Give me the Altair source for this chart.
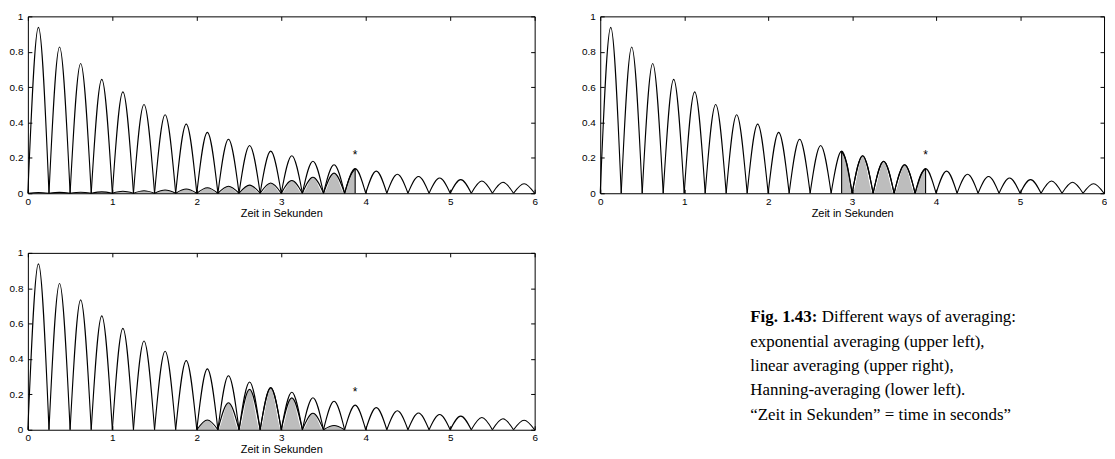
import altair as alt
import pandas as pd

# ---------------- data ----------------
zero_times = [0.0, 0.25, 0.5, 0.75, 1.0, 1.25, 1.5, 1.75, 2.0, 2.25, 2.5, 2.75,
              3.0, 3.25, 3.5, 3.75, 4.0, 4.25, 4.5, 4.75, 5.0, 5.25, 5.5, 5.75, 6.0]
peak_times = [0.125, 0.375, 0.625, 0.875, 1.125, 1.375, 1.625, 1.875, 2.125, 2.375,
              2.625, 2.875, 3.125, 3.375, 3.625, 3.875, 4.125, 4.375, 4.625, 4.875,
              5.125, 5.375, 5.625, 5.875]
signal_peaks = [0.938, 0.827, 0.734, 0.644, 0.573, 0.502, 0.444, 0.391, 0.344, 0.305,
                0.270, 0.238, 0.212, 0.181, 0.161, 0.139, 0.125, 0.107, 0.095, 0.086,
                0.077, 0.069, 0.062, 0.054]

# exponential averaging (upper left): weighted humps 0..14 and a half hump to the marker
exp_peaks = [0.004, 0.005, 0.006, 0.008, 0.011, 0.014, 0.018, 0.024, 0.031, 0.040,
             0.046, 0.058, 0.072, 0.090, 0.114]
exp_half_t = [3.75, 3.8125, 3.875]
exp_half_y = [0.0, 0.093, 0.139]

# linear averaging (upper right): full humps 12..14 plus two half humps
lin_full_idx = [12, 13, 14]
lin_start_t = [2.875, 2.9375, 3.0]
lin_start_y = [0.238, 0.168, 0.0]
lin_end_t = [3.75, 3.8125, 3.875]
lin_end_y = [0.0, 0.099, 0.139]

# Hanning averaging (lower left)
hann_idx = [8, 9, 10, 11, 12, 13, 14]
hann_peaks = [0.055, 0.153, 0.228, 0.237, 0.180, 0.093, 0.024]

marker_time = 3.875
marker_level = 0.215

x_ticks = [0, 1, 2, 3, 4, 5, 6]
y_ticks = [0, 0.2, 0.4, 0.6, 0.8, 1]
x_title = "Zeit in Sekunden"

caption_bold = "Fig. 1.43:"
caption_first = "Different ways of averaging:"
caption_rest = ["exponential averaging (upper left),",
                "linear averaging (upper right),",
                "Hanning-averaging (lower left).",
                "\u201cZeit in Sekunden\u201d = time in seconds\u201d"]


# ---------------- tables ----------------
def humps(indices, heights, tag):
    rows = []
    for k, h in zip(indices, heights):
        hid = f"{tag}{k}"
        rows += [dict(hump=hid, t=zero_times[k], y=0.0),
                 dict(hump=hid, t=peak_times[k], y=h),
                 dict(hump=hid, t=zero_times[k + 1], y=0.0)]
    return rows


def piece(ts, ys, tag):
    return [dict(hump=tag, t=t, y=y) for t, y in zip(ts, ys)]


signal_df = pd.DataFrame(humps(range(len(signal_peaks)), signal_peaks, "s"))
exp_df = pd.DataFrame(humps(range(len(exp_peaks)), exp_peaks, "e") + piece(exp_half_t, exp_half_y, "eh"))
lin_df = pd.DataFrame(humps(lin_full_idx, [signal_peaks[i] for i in lin_full_idx], "l")
                      + piece(lin_start_t, lin_start_y, "ls") + piece(lin_end_t, lin_end_y, "le"))
hann_df = pd.DataFrame(humps(hann_idx, hann_peaks, "h"))

exp_rules = pd.DataFrame(dict(t=[exp_half_t[-1]], y0=[0.0], y=[exp_half_y[-1]]))
lin_rules = pd.DataFrame(dict(t=[lin_start_t[0], lin_end_t[-1]], y0=[0.0, 0.0],
                              y=[lin_start_y[0], lin_end_y[-1]]))
star_df = pd.DataFrame(dict(t=[marker_time], y=[marker_level], s=["*"]))

# ---------------- styling ----------------
FONT = "Liberation Sans"
XS = alt.Scale(domain=[0, 6], nice=False, zero=False)
YS = alt.Scale(domain=[0, 1], nice=False)
TICK = {"expr": "-4"}
common = dict(grid=False, domainColor="black", tickColor="black", domainWidth=1,
              tickWidth=1, tickSize=TICK, labelFont=FONT, labelFontSize=10,
              labelColor="black", labelFlush=False, labelOverlap=False, zindex=1)

ax_bottom = alt.Axis(orient="bottom", values=x_ticks, format="~g", labelPadding=7,
                     title=x_title, titleFont=FONT, titleFontSize=11,
                     titleFontWeight="normal", titleColor="black", titlePadding=1, **common)
ax_left = alt.Axis(orient="left", values=y_ticks, format="~g", labelPadding=9, title=None, **common)
ax_top = alt.Axis(orient="top", values=x_ticks, labels=False, title=None, **common)
ax_right = alt.Axis(orient="right", values=y_ticks, labels=False, title=None, **common)


def panel(wdf, rules, width):
    enc_plain = dict(x=alt.X("t:Q", scale=XS, axis=None), y=alt.Y("y:Q", scale=YS, axis=None))
    area = alt.Chart(wdf).mark_area(interpolate="monotone", color="#bdbdbd").encode(
        detail="hump:N", **enc_plain)
    wline = alt.Chart(wdf).mark_line(interpolate="monotone", color="black", strokeWidth=1.1).encode(
        detail="hump:N", **enc_plain)
    outer = alt.Chart(signal_df).mark_line(interpolate="monotone", color="black", strokeWidth=1.1).encode(
        x=alt.X("t:Q", scale=XS, axis=ax_bottom),
        y=alt.Y("y:Q", scale=YS, axis=ax_left),
        detail="hump:N")
    star = alt.Chart(star_df).mark_text(font=FONT, fontSize=12, baseline="middle", color="black").encode(
        x=alt.X("t:Q", scale=XS, axis=ax_top),
        y=alt.Y("y:Q", scale=YS, axis=ax_right),
        text="s:N")
    layers = [area, wline]
    if rules is not None:
        rule = alt.Chart(rules).mark_rule(color="black", strokeWidth=1.1).encode(
            x=alt.X("t:Q", scale=XS, axis=None),
            y=alt.Y("y0:Q", scale=YS, axis=None), y2="y:Q")
        layers.append(rule)
    layers += [outer, star]
    return alt.layer(*layers).resolve_axis(x="independent", y="independent").properties(
        width=width, height=178)


p1 = panel(exp_df, exp_rules, 510)
p2 = panel(lin_df, lin_rules, 507)
p3 = panel(hann_df, None, 510)

CY = alt.Scale(domain=[-65 / 24.5, (178 - 65) / 24.5], range=[0, 178])
CAP = dict(font="Liberation Serif", fontSize=17, align="left", baseline="middle", color="black")
cap_first_df = pd.DataFrame(dict(i=[0], s=[caption_first]))
cap_rest_df = pd.DataFrame(dict(i=list(range(1, len(caption_rest) + 1)), s=caption_rest))
cap_bold_df = pd.DataFrame(dict(i=[0], s=[caption_bold]))

cap_bold = alt.Chart(cap_bold_df).mark_text(fontWeight="bold", **CAP).encode(
    x=alt.value(151), y=alt.Y("i:Q", scale=CY, axis=None), text="s:N")
cap_first = alt.Chart(cap_first_df).mark_text(**CAP).encode(
    x=alt.value(223), y=alt.Y("i:Q", scale=CY, axis=None), text="s:N")
cap_rest = alt.Chart(cap_rest_df).mark_text(**CAP).encode(
    x=alt.value(151), y=alt.Y("i:Q", scale=CY, axis=None), text="s:N")
cap = alt.layer(cap_bold, cap_first, cap_rest).properties(
    width=507, height=178, view=alt.ViewBackground(strokeOpacity=0))

chart = alt.concat(p1, p2, p3, cap, columns=2, spacing={"row": 60, "column": 66},
                   bounds="flush").properties(
    padding={"left": 1, "top": 2, "right": 0, "bottom": 0},
    background="white",
).configure_view(strokeOpacity=0)

chart.save("out.html", embed_options={"renderer": "svg", "actions": False})
